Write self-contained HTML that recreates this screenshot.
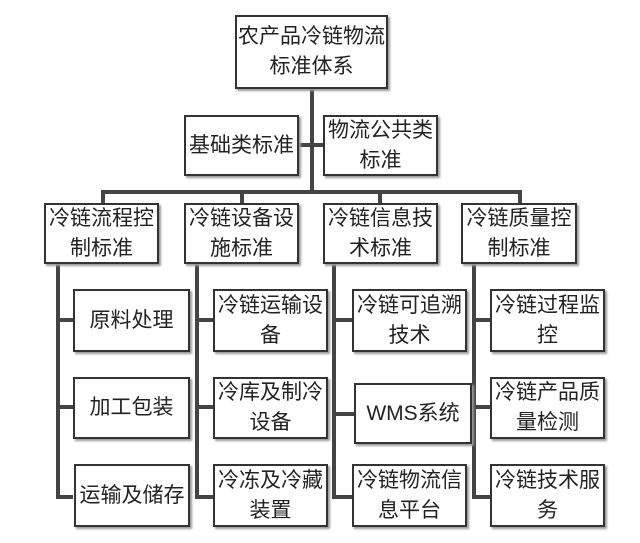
<!DOCTYPE html>
<html><head><meta charset="utf-8"><style>
body{margin:0;width:640px;height:543px;background:#fff;position:relative;overflow:hidden;font-family:"Liberation Sans","Noto Sans CJK SC",sans-serif;}
.b{position:absolute;box-sizing:border-box;border:2px solid #333;background:#fff;box-shadow:2px 2px 2px #999;display:flex;align-items:center;justify-content:center;text-align:center;font-size:21px;line-height:30px;color:#222;}
.l{position:absolute;background:#444;}
</style></head><body>
<div class="l" style="left:310px;top:88px;width:4px;height:104px"></div>
<div class="l" style="left:298px;top:143px;width:25px;height:4px"></div>
<div class="l" style="left:101px;top:190px;width:421px;height:4px"></div>
<div class="l" style="left:101px;top:190px;width:4px;height:14px"></div>
<div class="l" style="left:240px;top:190px;width:4px;height:14px"></div>
<div class="l" style="left:378px;top:190px;width:4px;height:14px"></div>
<div class="l" style="left:518px;top:190px;width:4px;height:14px"></div>

<div class="l" style="left:56px;top:263px;width:4px;height:236px"></div>
<div class="l" style="left:195px;top:263px;width:4px;height:236px"></div>
<div class="l" style="left:332px;top:263px;width:4px;height:236px"></div>
<div class="l" style="left:472px;top:263px;width:4px;height:236px"></div>

<div class="l" style="left:56px;top:318px;width:17px;height:4px"></div>
<div class="l" style="left:56px;top:405px;width:17px;height:4px"></div>
<div class="l" style="left:56px;top:495px;width:17px;height:4px"></div>
<div class="l" style="left:195px;top:318px;width:18px;height:4px"></div>
<div class="l" style="left:195px;top:405px;width:18px;height:4px"></div>
<div class="l" style="left:195px;top:495px;width:18px;height:4px"></div>
<div class="l" style="left:332px;top:318px;width:20px;height:4px"></div>
<div class="l" style="left:332px;top:412px;width:22px;height:4px"></div>
<div class="l" style="left:332px;top:495px;width:20px;height:4px"></div>
<div class="l" style="left:472px;top:318px;width:18px;height:4px"></div>
<div class="l" style="left:472px;top:405px;width:18px;height:4px"></div>
<div class="l" style="left:472px;top:495px;width:18px;height:4px"></div>

<div class="b" style="left:235px;top:15px;width:153px;height:74px">农产品冷链物流<br>标准体系</div>
<div class="b" style="left:184px;top:115px;width:115px;height:61px">基础类标准</div>
<div class="b" style="left:323px;top:115px;width:115px;height:61px">物流公共类<br>标准</div>

<div class="b" style="left:44px;top:203px;width:115px;height:61px">冷链流程控<br>制标准</div>
<div class="b" style="left:184px;top:203px;width:115px;height:61px">冷链设备设<br>施标准</div>
<div class="b" style="left:323px;top:203px;width:115px;height:61px">冷链信息技<br>术标准</div>
<div class="b" style="left:461px;top:203px;width:116px;height:61px">冷链质量控<br>制标准</div>

<div class="b" style="left:73px;top:289px;width:117px;height:63px">原料处理</div>
<div class="b" style="left:73px;top:377px;width:117px;height:62px">加工包装</div>
<div class="b" style="left:74px;top:464px;width:116px;height:63px">运输及储存</div>

<div class="b" style="left:213px;top:289px;width:115px;height:63px">冷链运输设<br>备</div>
<div class="b" style="left:213px;top:377px;width:115px;height:62px">冷库及制冷<br>设备</div>
<div class="b" style="left:213px;top:464px;width:115px;height:63px">冷冻及冷藏<br>装置</div>

<div class="b" style="left:352px;top:289px;width:115px;height:63px">冷链可追溯<br>技术</div>
<div class="b" style="left:354px;top:383px;width:118px;height:61px">WMS系统</div>
<div class="b" style="left:352px;top:464px;width:115px;height:63px">冷链物流信<br>息平台</div>

<div class="b" style="left:490px;top:289px;width:115px;height:63px">冷链过程监<br>控</div>
<div class="b" style="left:490px;top:377px;width:115px;height:62px">冷链产品质<br>量检测</div>
<div class="b" style="left:490px;top:464px;width:115px;height:63px">冷链技术服<br>务</div>
</body></html>
